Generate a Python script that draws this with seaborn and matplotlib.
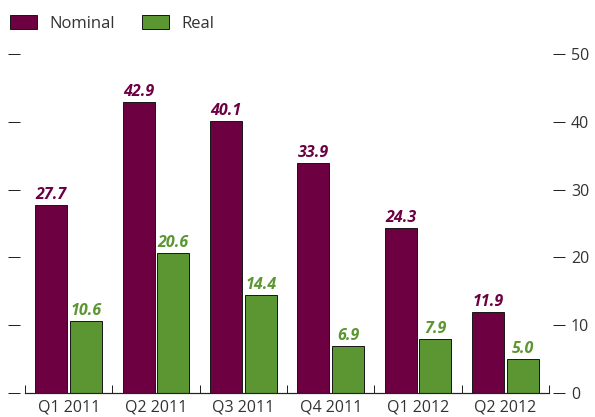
import matplotlib
matplotlib.use("Agg")
import matplotlib.pyplot as plt
from matplotlib.patches import Patch
import seaborn as sns
import pandas as pd

quarters = ["Q1 2011", "Q2 2011", "Q3 2011", "Q4 2011", "Q1 2012", "Q2 2012"]
nominal = [27.7, 42.9, 40.1, 33.9, 24.3, 11.9]
real = [10.6, 20.6, 14.4, 6.9, 7.9, 5.0]
series = ["Nominal", "Real"]
colors = {"Nominal": "#6c0041", "Real": "#5b9632"}
y_ticks = [0, 10, 20, 30, 40, 50]

df = pd.DataFrame({
    "quarter": quarters * 2,
    "value": nominal + real,
    "series": ["Nominal"] * len(quarters) + ["Real"] * len(quarters),
})

sns.set_theme(style="white")
plt.rcParams["font.family"] = ["Open Sans", "DejaVu Sans"]

PX = 0.72  # points per pixel at 100 dpi

fig = plt.figure(figsize=(5.95, 4.17), dpi=100)
ax = fig.add_axes([25 / 595, 24 / 417, 524 / 595, 339 / 417])

sns.barplot(data=df, x="quarter", y="value", hue="series", order=quarters,
            hue_order=series, palette=colors, saturation=1, width=0.8,
            gap=0.085, edgecolor="#1a1a1a", linewidth=1.0 * PX, ax=ax,
            legend=False)

# value labels above each bar
for container, name in zip(ax.containers, series):
    ax.bar_label(container, labels=[f"{v:.1f}" for v in container.datavalues],
                 padding=1.5, fontsize=11.5, fontweight="bold",
                 fontstyle="italic", color=colors[name])

ax.set_xlim(-0.5, len(quarters) - 0.5)
ax.set_ylim(0, 50)
ax.set_xlabel("")
ax.set_ylabel("")

# y axis: ticks on both sides, labels only on the right
ax.set_yticks(y_ticks)
ax.yaxis.set_ticks_position("both")
ax.tick_params(axis="y", which="major", direction="out", length=12 * PX,
               width=1.0 * PX, color="#222222", left=True, right=True,
               labelleft=False, labelright=True, labelsize=11.5,
               labelcolor="#333333", pad=6 * PX)
ax.spines["left"].set_position(("outward", 5 * PX))
ax.spines["right"].set_position(("outward", 4 * PX))
for s in ["left", "right", "top"]:
    ax.spines[s].set_visible(False)
ax.spines["bottom"].set_color("#222222")
ax.spines["bottom"].set_linewidth(1.2 * PX)

# x axis: category labels, divider ticks between groups
ax.tick_params(axis="x", which="major", length=0, labelsize=11.5,
               labelcolor="#333333", pad=5)
ax.set_xticks([i - 0.5 for i in range(len(quarters) + 1)], minor=True)
ax.tick_params(axis="x", which="minor", direction="in", length=8 * PX,
               width=1.0 * PX, color="#222222", bottom=True)

handles = [Patch(facecolor=colors[s], edgecolor="#1a1a1a", linewidth=1.0 * PX,
                 label=s) for s in series]
fig.legend(handles=handles, loc="upper left",
           bbox_to_anchor=(10 / 595, 1 - 15 / 417), ncol=2, frameon=False,
           fontsize=12, handlelength=1.6, handleheight=0.95,
           handletextpad=0.75, columnspacing=1.65, borderpad=0,
           borderaxespad=0, labelcolor="#333333")

fig.savefig("out.png", dpi=100)
